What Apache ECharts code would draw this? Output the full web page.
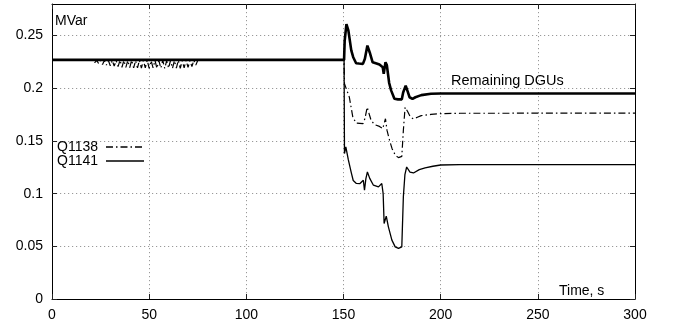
<!DOCTYPE html>
<html>
<head>
<meta charset="utf-8">
<script src="https://cdn.jsdelivr.net/npm/echarts@6/dist/echarts.min.js"></script>
<style>
  html, body { margin: 0; padding: 0; background: #fff; }
  #chart { width: 675px; height: 322px; }
</style>
</head>
<body>
<div id="chart"></div>
<script>
// Reactive power of the DGUs after the disturbance at t = 150 s

const xTicks = [0, 50, 100, 150, 200, 250, 300];
const yTicks = [0, 0.05, 0.1, 0.15, 0.2, 0.25];

// Remaining DGUs (bold trace)
const dguTime = [0, 150.3, 150.6, 151.5, 152.5, 154, 155, 156.5, 158, 160, 161, 162.3, 163.5, 165, 167,
  168.5, 170.2, 170.7, 171.6, 172.3, 173.5, 174.5, 176.2, 178, 180, 180.7, 182, 183, 184, 185.5, 187,
  190, 195, 200, 300];
const dguValue = [0.227, 0.227, 0.245, 0.261, 0.255, 0.236, 0.2295, 0.2238, 0.2235, 0.2232, 0.228, 0.2405,
  0.234, 0.2247, 0.2235, 0.2225, 0.220, 0.2137, 0.2247, 0.222, 0.205, 0.198, 0.190, 0.1895, 0.1895, 0.196,
  0.2025, 0.197, 0.1915, 0.190, 0.1915, 0.1935, 0.1948, 0.195, 0.195];

// Q1138
const q1138Time = [0, 19, 20, 21, 22, 23, 24, 25, 26, 27, 28, 29, 30, 31, 32, 33, 34, 35, 36, 37, 38, 39,
  40, 41, 42, 43, 44, 45, 46, 47, 48, 49, 50, 51, 52, 53, 54, 55, 56, 57, 58, 59, 60, 61, 62, 63, 64, 65,
  66, 67, 68, 69, 70, 71, 72, 73, 74, 75, 76, 77,
  150.3, 150.5, 151.3, 153, 154.8, 156.5, 160, 161, 162.2, 163, 164.2, 166, 168.5, 170.2, 170.6, 171.6,
  172.4, 173.7, 175, 176.7, 178.3, 180, 180.8, 181.7, 183, 184.5, 186, 188, 190, 195, 200, 210, 300];
const q1138Value = [0.227, 0.2268, 0.2258, 0.2266, 0.2244, 0.2265, 0.2234, 0.2264, 0.2226, 0.2266, 0.2220,
  0.2263, 0.2214, 0.2265, 0.2210, 0.2262, 0.2205, 0.2266, 0.2200, 0.2264, 0.2198, 0.2263, 0.2196, 0.2266,
  0.2193, 0.2262, 0.2195, 0.2265, 0.2191, 0.2263, 0.2194, 0.2266, 0.2190, 0.2262, 0.2193, 0.2265, 0.2189,
  0.2263, 0.2192, 0.2266, 0.2188, 0.2262, 0.2191, 0.2265, 0.2189, 0.2263, 0.2192, 0.2266, 0.2190, 0.2262,
  0.2195, 0.2265, 0.2198, 0.2263, 0.2206, 0.2266, 0.2220, 0.2264, 0.2248, 0.2268,
  0.227, 0.2043, 0.2058, 0.1916, 0.1726, 0.167, 0.1664, 0.171, 0.182, 0.177, 0.1695, 0.1655, 0.1638,
  0.1617, 0.1645, 0.1711, 0.160, 0.1506, 0.1427, 0.1364, 0.1342, 0.1354, 0.160, 0.182, 0.178, 0.1725,
  0.171, 0.1725, 0.174, 0.1752, 0.1759, 0.1763, 0.1764];

// Q1141
const q1141Time = [0, 150.3, 150.5, 151.2, 152.5, 154, 155, 156.5, 158.5, 160.2, 160.8, 161.5, 162.3, 163.5,
  165.4, 168, 169.7, 170.4, 170.9, 172, 173.1, 174.9, 176.6, 178.3, 180, 180.8, 181.6, 182.5, 184.2, 186,
  189, 192, 196, 200, 210, 300];
const q1141Value = [0.227, 0.227, 0.138, 0.1445, 0.132, 0.120, 0.1125, 0.1098, 0.1096, 0.1127, 0.1032, 0.114,
  0.1206, 0.1145, 0.108, 0.1064, 0.1096, 0.1001, 0.0717, 0.0786, 0.0685, 0.0559, 0.0495, 0.048, 0.0495,
  0.0969, 0.118, 0.1253, 0.1205, 0.1196, 0.1228, 0.1245, 0.126, 0.1272, 0.1275, 0.1275];

const zip = (t, v) => t.map((x, i) => [x, v[i]]);
const FONT = 'Liberation Sans';
const gridDots = { color: '#999', width: 1, type: [1.2, 2.8] };

const chart = echarts.init(document.getElementById('chart'));

const baseX = {
  type: 'value', min: xTicks[0], max: xTicks[xTicks.length - 1], interval: xTicks[1] - xTicks[0],
  axisLine: { show: true, onZero: false, lineStyle: { color: '#000', width: 1 } },
  axisTick: { show: true, inside: true, length: 5, lineStyle: { color: '#222' } }
};
const baseY = {
  type: 'value', min: 0, max: 0.28, interval: yTicks[1] - yTicks[0],
  axisLine: { show: true, onZero: false, lineStyle: { color: '#000', width: 1 } },
  axisTick: { show: true, inside: true, length: 5, lineStyle: { color: '#222' } }
};

chart.setOption({
  animation: false,
  backgroundColor: '#fff',
  grid: { left: 52, right: 40, top: 4, bottom: 23, containLabel: false },
  xAxis: [
    Object.assign({}, baseX, {
      position: 'bottom',
      axisLabel: { show: true, margin: 9, fontSize: 14, fontFamily: FONT, color: '#000' },
      splitLine: { show: true, lineStyle: gridDots }
    }),
    Object.assign({}, baseX, {
      position: 'top',
      axisLabel: { show: false },
      splitLine: { show: false }
    })
  ],
  yAxis: [
    Object.assign({}, baseY, {
      position: 'left',
      axisLabel: { show: true, showMaxLabel: false, margin: 9, fontSize: 14, fontFamily: FONT, color: '#000' },
      splitLine: { show: true, lineStyle: gridDots }
    }),
    Object.assign({}, baseY, {
      position: 'right',
      axisLabel: { show: false },
      splitLine: { show: false }
    })
  ],
  legend: {
    data: ['Q1138', 'Q1141'],
    orient: 'vertical',
    left: 52,
    top: 135,
    align: 'right',
    itemWidth: 38,
    itemHeight: 12,
    itemGap: 0,
    itemStyle: { opacity: 0 },
    lineStyle: { width: 1.5, color: '#000' },
    textStyle: { fontSize: 14, fontFamily: FONT, color: '#000', padding: [0, 3, 0, 0] }
  },
  graphic: [
    { type: 'text', left: 55, top: 14, style: { text: 'MVar', fontSize: 14, fontFamily: FONT, fill: '#000' } },
    { type: 'text', left: 451, top: 73, style: { text: 'Remaining DGUs', fontSize: 14.5, fontFamily: FONT, fill: '#000' } },
    { type: 'text', left: 559, top: 284, style: { text: 'Time, s', fontSize: 14, fontFamily: FONT, fill: '#000' } }
  ],
  series: [
    {
      name: 'Q1141', type: 'line', data: zip(q1141Time, q1141Value),
      showSymbol: false, symbol: 'none',
      lineStyle: { color: '#000', width: 1.3, type: 'solid' },
      itemStyle: { color: '#000' }
    },
    {
      name: 'Q1138', type: 'line', data: zip(q1138Time, q1138Value),
      showSymbol: false, symbol: 'none',
      lineStyle: { color: '#000', width: 1.2, type: [7, 3, 1.5, 3] },
      itemStyle: { color: '#000' }
    },
    {
      name: 'Remaining DGUs', type: 'line', data: zip(dguTime, dguValue),
      showSymbol: false, symbol: 'none',
      lineStyle: { color: '#000', width: 2.6, type: 'solid' },
      itemStyle: { color: '#000' }
    }
  ]
});
</script>
</body>
</html>
